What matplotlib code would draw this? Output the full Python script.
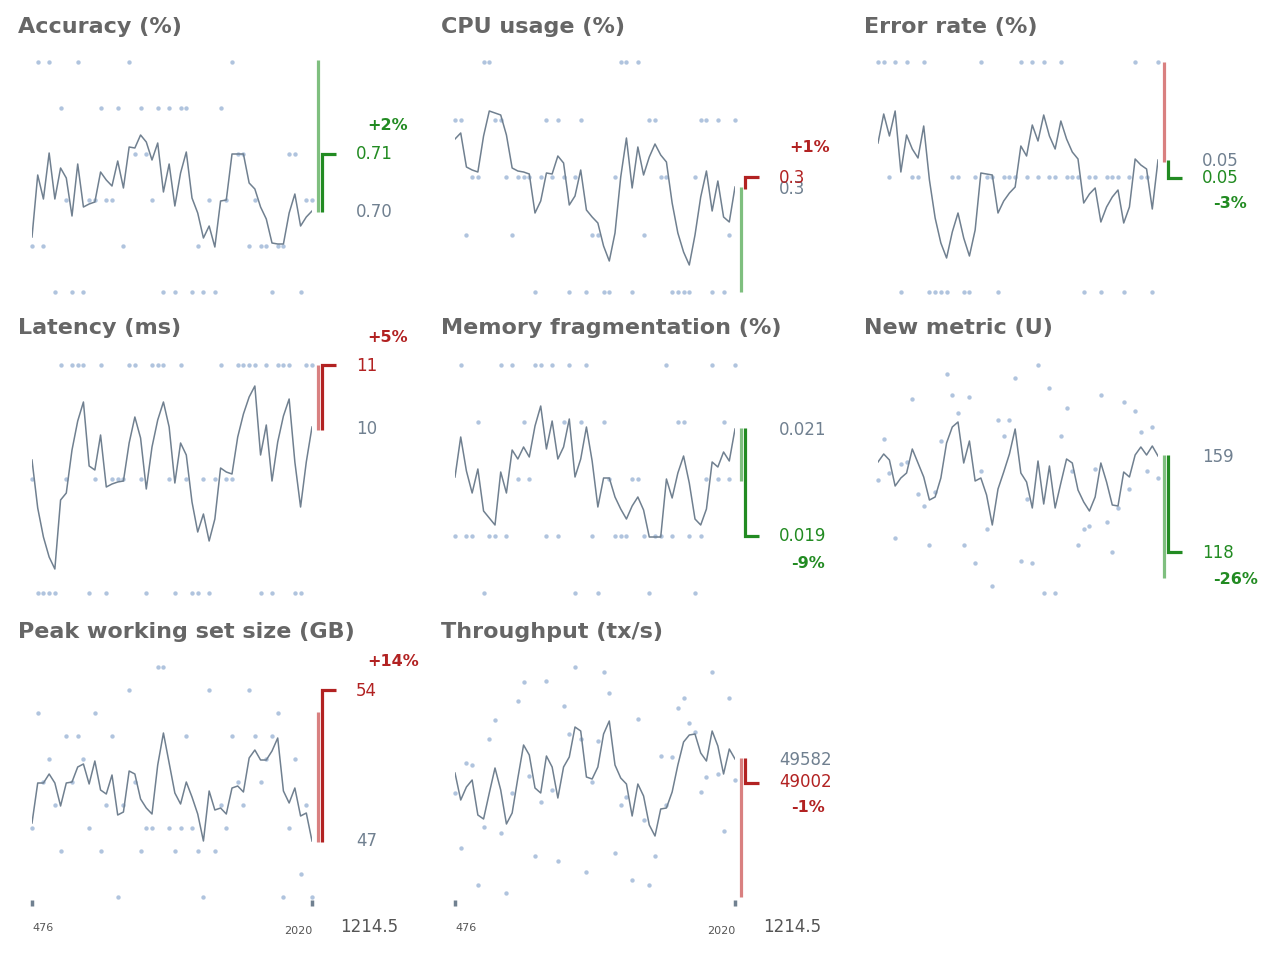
import matplotlib
matplotlib.use("Agg")
import matplotlib.pyplot as plt
import numpy as np

titles = ["Accuracy (%)", "CPU usage (%)", "Error rate (%)", "Latency (ms)",
          "Memory fragmentation (%)", "New metric (U)", "Peak working set size (GB)", "Throughput (tx/s)"]

acc_line = [55,117,93,139,93,124,114,76,128,85,88,90,120,112,106,131,104,145,144,157,150,132,149,100,128,86,119,140,94,79,54,66,45,91,92,138,138,138,109,103,85,73,49,48,48,79,98,66,75,81]
acc_lvl = [1,5,1,5,0,4,2,0,5,0,2,2,4,2,2,4,1,5,3,4,3,2,4,0,4,0,4,4,0,1,0,2,0,4,2,5,3,3,1,2,1,1,0,1,1,3,3,0,2,2]
cpu_line = [153,159,125,122,120,156,181,179,177,157,124,121,120,118,79,91,119,118,136,129,87,96,122,82,75,69,46,31,59,115,154,104,145,117,135,148,137,130,89,59,40,27,57,95,121,81,111,75,70,105]
cpu_lvl = [3,3,1,2,2,4,4,3,3,2,1,2,2,2,0,2,3,2,3,2,0,2,3,0,1,1,0,0,2,4,4,0,4,1,3,3,2,2,0,0,0,0,2,3,3,0,3,0,1,3]
err_line = [149,178,156,181,120,157,143,134,166,112,74,49,34,60,79,54,36,62,119,118,117,79,91,99,105,146,136,167,151,177,156,143,171,153,140,133,89,98,104,70,85,95,102,69,85,133,127,123,83,132]
err_lvl = [2,2,1,2,0,2,1,1,2,0,0,0,0,1,1,0,0,1,2,1,1,0,1,1,1,2,1,2,1,2,1,1,2,1,1,1,0,1,1,0,1,1,1,0,1,2,1,1,0,2]
lat_line = [133,85,56,36,24,93,100,143,172,191,127,123,158,106,109,111,112,150,176,155,104,146,173,191,166,110,150,138,91,61,79,52,74,125,121,119,156,179,196,207,138,168,112,151,177,194,131,86,131,166]
lat_lvl = [1,0,0,0,0,2,1,2,2,2,0,1,2,0,1,1,1,2,2,1,0,2,2,2,1,0,2,1,0,0,1,0,1,2,1,1,2,2,2,2,0,2,0,2,2,2,0,0,2,2]
mem_line = [116,156,122,100,124,82,75,68,121,100,143,134,146,136,167,187,144,172,134,146,174,116,134,166,132,86,115,115,96,84,74,87,96,83,56,56,56,114,95,120,137,110,74,68,84,131,126,141,132,164]
mem_lvl = [1,4,1,1,3,0,1,1,4,1,4,2,3,2,4,4,1,4,1,3,4,0,3,4,1,0,3,2,1,1,1,2,2,1,0,1,1,4,1,3,3,1,0,1,2,4,2,3,2,4]
new_line = [131,139,133,107,115,120,144,130,116,93,96,115,150,166,171,130,152,112,115,98,68,104,121,139,164,120,111,85,132,89,127,85,110,134,130,103,91,82,96,130,111,88,87,121,116,138,146,138,147,137]
new_dots = [113,154,120,55,129,131,194,99,87,48,101,152,219,198,180,48,196,30,122,64,7,173,157,173,215,32,94,30,228,0,205,0,157,185,122,48,64,67,124,198,71,41,85,191,104,182,161,122,166,115]
peak_line = [74,114,114,123,114,91,114,115,130,133,113,136,107,103,122,82,85,126,123,98,89,83,132,164,134,104,93,115,100,83,56,106,87,89,83,109,111,105,139,147,137,137,146,159,106,94,109,81,84,56]
peak_lvl = [3,8,5,6,4,2,7,5,7,6,3,8,2,4,7,0,4,9,5,2,3,3,10,10,3,2,3,7,3,2,0,9,2,4,3,7,5,4,9,7,5,6,7,8,0,3,6,1,4,0]
thr_line = [124,97,110,117,82,78,104,129,107,73,84,119,152,142,109,104,141,130,99,130,140,170,166,120,118,130,163,176,132,119,113,81,113,101,72,61,88,89,105,132,155,162,163,144,136,166,151,123,148,138]
thr_dots = [104,49,134,132,12,70,158,177,64,4,104,196,215,121,41,95,216,107,36,191,163,230,158,25,115,156,225,204,44,92,100,17,178,77,12,41,141,92,140,189,199,174,165,105,120,225,123,66,199,117]

level_step = [46, 57.5, 115, 114, 57, None, 23, None]
lines = [acc_line, cpu_line, err_line, lat_line, mem_line, new_line, peak_line, thr_line]
dots = [acc_lvl, cpu_lvl, err_lvl, lat_lvl, mem_lvl, new_dots, peak_lvl, thr_dots]

light_bar = [(232, 80), (105, 0), (230, 130), (228, 163), (165, 112), (138, 15), (185, 55), (139, 0)]
light_col = ["g", "g", "r", "r", "g", "g", "r", "r"]
bracket = [(80, 138), (103, 115), (132, 114), (163, 228), (165, 57), (138, 41), (55, 207), (139, 114)]
change_col = ["g", "r", "g", "r", "g", "g", "r", "r"]
prev_txt = ["0.70", "0.3", "0.05", "10", "0.021", "159", "47", "49582"]
cur_txt = ["0.71", "0.3", "0.05", "11", "0.019", "118", "54", "49002"]
prev_y = [80, 103, 131, 164, 163, 136, 56, 137]
cur_y = [138, 114, 114, 227, 57, 40, 206, 115]
pct_txt = ["+2%", "+1%", "-3%", "+5%", "-9%", "-26%", "+14%", "-1%"]
pct_y = [167, 144, 89, 256, 30, 14, 235, 89]
pct_x = [62.3, 62.1, 61.6, 62.3, 61.8, 62.5, 63.2, 61.8]

x_start, x_end, x_mid = "476", "2020", "1214.5"

dark = {"g": "#228B22", "r": "#B22222"}
light = {"g": "#7FBF7F", "r": "#D98080"}
LINE = "#708090"
DOT = "#B0C4DE"

fig = plt.figure(figsize=(12.8, 9.6), dpi=100)
col_x = [32, 455, 878]
row_bottom = [292, 593, 897]
for i in range(8):
    r, c = divmod(i, 3)
    ax = fig.add_axes([col_x[c] / 1280, 1 - row_bottom[r] / 960, 280 / 1280, 232 / 960])
    ax.set_xlim(0, 49)
    ax.set_ylim(0, 232)
    ax.axis("off")
    xs = np.arange(len(lines[i]))
    dv = np.array(dots[i], dtype=float)
    if level_step[i] is not None:
        dv = dv * level_step[i]
    ax.scatter(xs, dv, s=10, color=DOT, zorder=1, clip_on=False, linewidths=0)
    ax.plot(xs, lines[i], color=LINE, lw=1.1, zorder=2)
    lb = light_bar[i]
    ax.plot([50.05, 50.05], lb, color=light[light_col[i]], lw=2.3, clip_on=False, solid_capstyle="butt")
    p, q = bracket[i]
    cc = dark[change_col[i]]
    ax.plot([50.75, 50.75, 53.2], [p, q, q], color=cc, lw=2.3, clip_on=False,
            solid_capstyle="butt", solid_joinstyle="miter")
    ax.text(56.7, prev_y[i], prev_txt[i], color=LINE, fontsize=12, va="center", ha="left")
    ax.text(56.7, cur_y[i], cur_txt[i], color=cc, fontsize=12, va="center", ha="left")
    ax.text(pct_x[i], pct_y[i], pct_txt[i], color=cc, fontsize=11.5, fontweight="bold",
            va="center", ha="center")
    ax.text(-2.45, 265, titles[i], color="#666666", fontsize=16, fontweight="bold",
            va="center", ha="left")
    if r == 2:
        for xt in (0, 49):
            ax.plot([xt, xt], [-3, -9], color=LINE, lw=2.5, clip_on=False, solid_capstyle="butt")
        ax.text(0.15, -31, x_start, fontsize=8, color="#555555", va="center", ha="left")
        ax.text(49, -34, x_end, fontsize=8, color="#555555", va="center", ha="right")
        ax.text(54.0, -30, x_mid, fontsize=12, color="#555555", va="center", ha="left")

fig.savefig("out.png", dpi=100)
